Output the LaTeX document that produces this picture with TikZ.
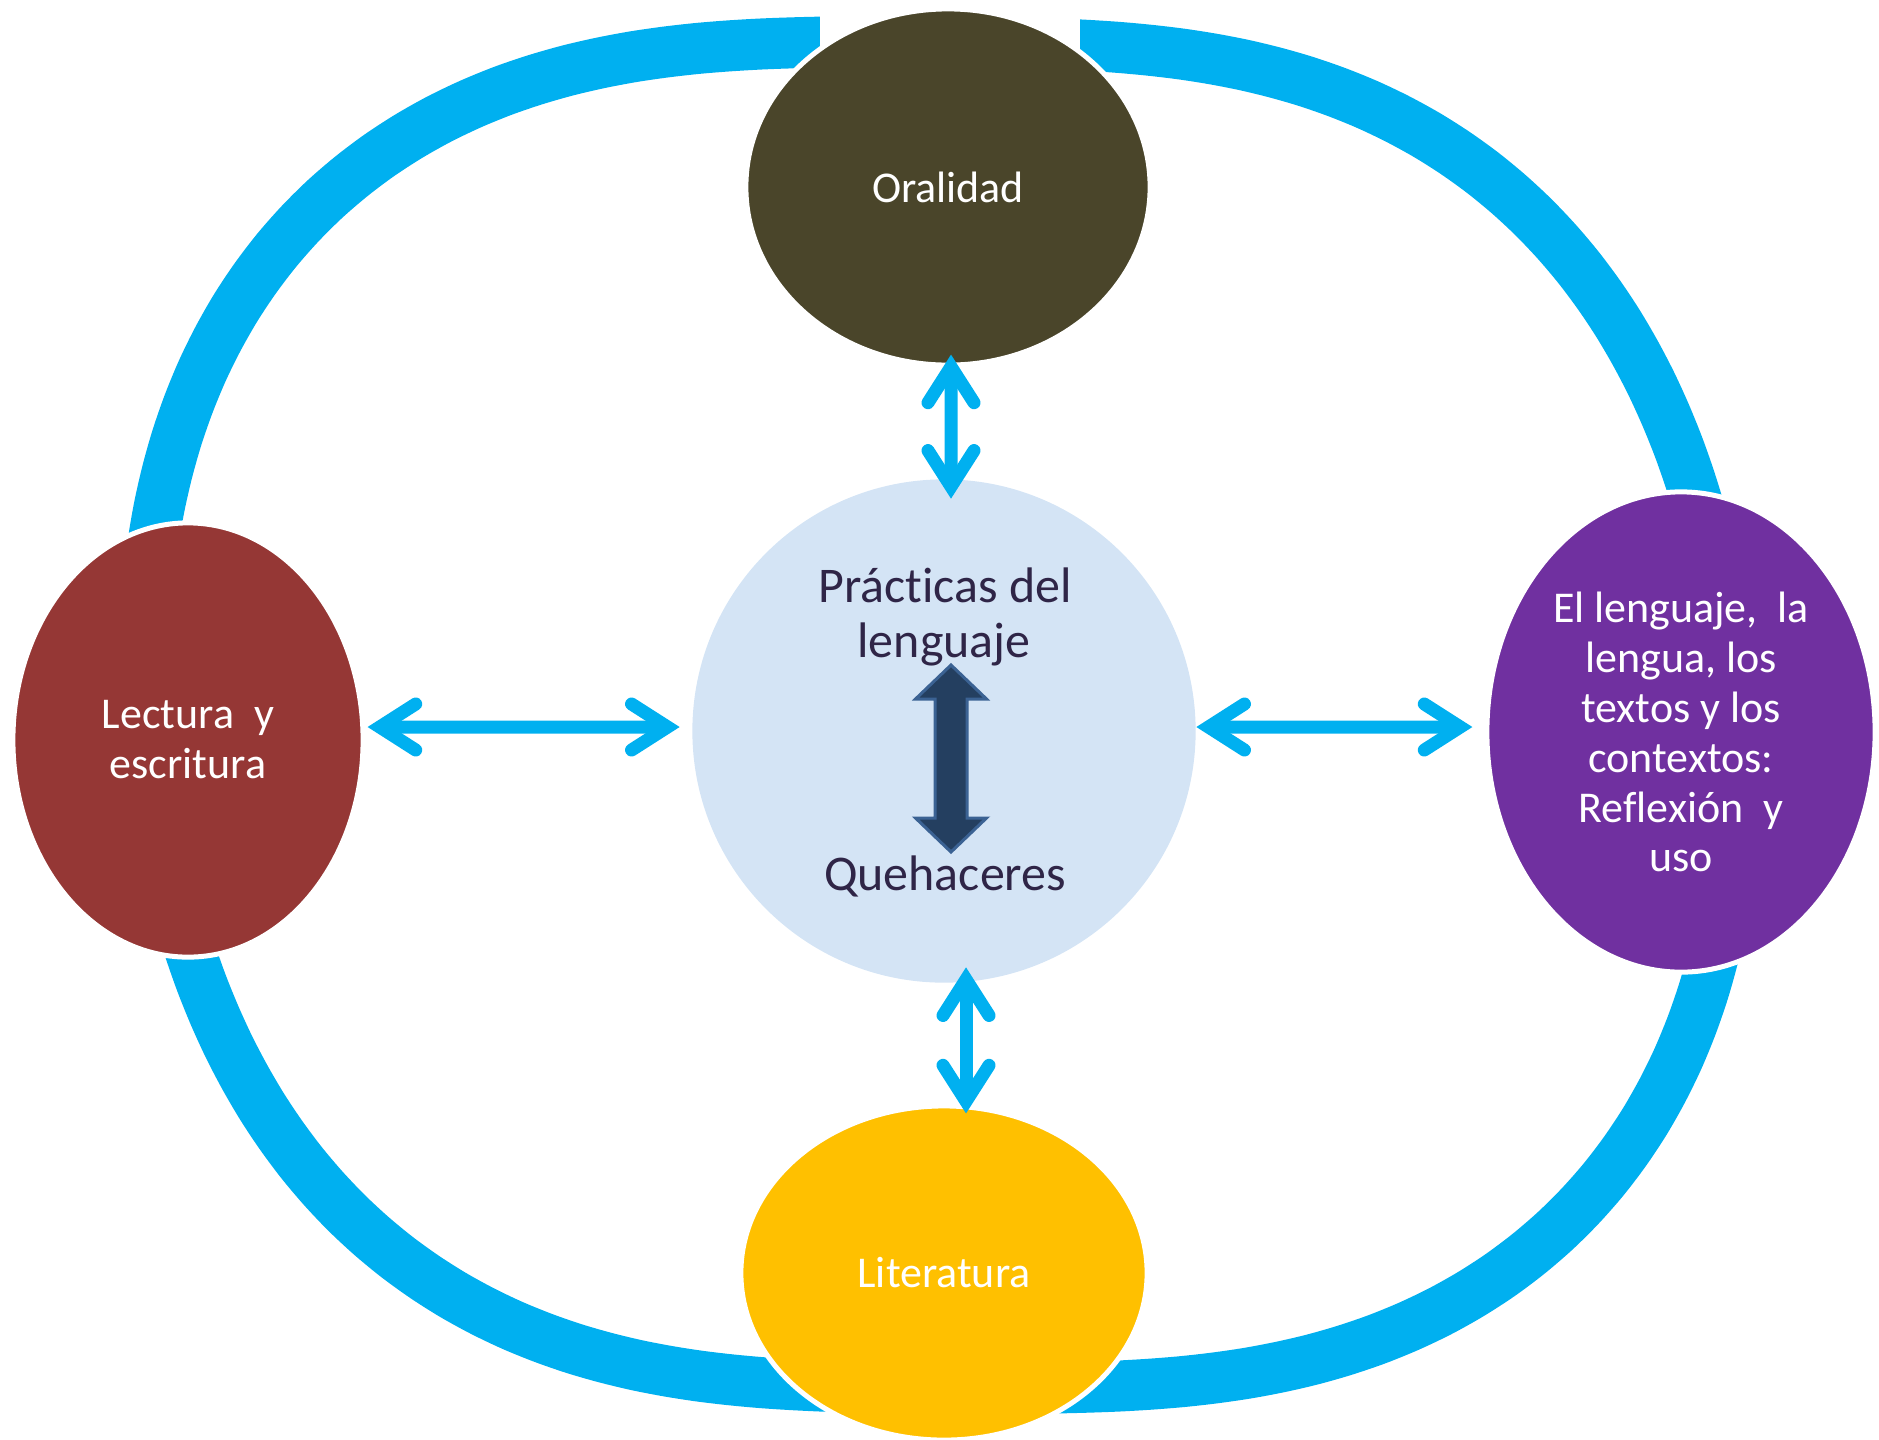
\documentclass[tikz,border=0pt]{standalone}
\usepackage{fontspec}
\setmainfont{Carlito}[Ligatures={NoCommon}]
\usetikzlibrary{arrows.meta,calc,shapes.geometric}
\definecolor{ringblue}{HTML}{00B0F0}
\definecolor{orlcol}{HTML}{4A452A}
\definecolor{leccol}{HTML}{953735}
\definecolor{purcol}{HTML}{7030A0}
\definecolor{litcol}{HTML}{FFC000}
\definecolor{ctrblue}{RGB}{212,228,245}
\definecolor{ctrtextcol}{HTML}{2F2547}
\definecolor{darkfill}{HTML}{243F60}
\definecolor{darkedge}{HTML}{3B6293}
\begin{document}
\begin{tikzpicture}[x=0.01cm,y=-0.01cm,
  declare function={ringr(\t)=756.6+60.3*cos(2*\t)+12.5*sin(2*\t)-23*cos(4*\t)+5.2*sin(4*\t);},
  ring/.style={draw=ringblue, line width=0.51cm},
  blob/.style={ellipse, draw=white, line width=0.05cm, inner sep=0pt, text=white, align=center,
    font=\fontsize{12.5pt}{14.2pt}\selectfont},
  ctrtext/.style={text=ctrtextcol, inner sep=0pt, font=\fontsize{14.2pt}{15.6pt}\selectfont},
  barb/.tip={Straight Barb[length=0.36cm, width=0.46cm, line cap=round, line join=miter]},
  biarrow/.style={draw=ringblue, line width=0.13cm, barb-barb},
  darkarrow/.style={fill=darkfill, draw=darkedge, line width=0.03cm, line join=miter}
]
\useasboundingbox (0,0) rectangle (1879,1439);

% big ring
\draw[ring] plot[domain=0:360, samples=145, smooth, variable=\t]
  ({940+ringr(\t)*cos(\t)}, {715+ringr(\t)*sin(\t)}) -- cycle;
% gap of the ring above Oralidad
\fill[white] (820,0) rectangle (1080,55);

% outer nodes
\node[blob, fill=orlcol, minimum width=4.04cm, minimum height=3.56cm] (orl) at (948,187) {Oralidad};
\node[blob, fill=leccol, minimum width=3.50cm, minimum height=4.34cm] (lect) at (188,740) {Lectura~ y\\escritura};
\node[blob, fill=purcol, minimum width=3.88cm, minimum height=4.80cm] (pur) at (1681,732)
  {El lenguaje,~ la\\lengua, los\\textos y los\\contextos:\\Reflexión~ y\\uso};
\node[blob, fill=litcol, minimum width=4.06cm, minimum height=3.34cm] (lit) at (944,1273) {Literatura};

% center circle
\node[circle, fill=ctrblue, minimum size=5.03cm, inner sep=0pt] (ctr) at (944,731) {};
\node[ctrtext, anchor=base] (t1) at (945,602) {Prácticas del};
\node[ctrtext, anchor=base] (t2) at (944,657) {lenguaje};
\node[ctrtext, anchor=base] (t3) at (945,890) {Quehaceres};

% dark double arrow inside the circle
\draw[darkarrow] (951,665) -- (986.5,699) -- (967,699) -- (967,818) -- (986.5,818)
  -- (951,852) -- (915.5,818) -- (935,818) -- (935,699) -- (915.5,699) -- cycle;

% connectors
\draw[biarrow, shorten <=0.02cm, shorten >=0.12cm] ([yshift=0.13cm]lect.east) -- ([yshift=0.04cm]ctr.west);
\draw[biarrow, shorten <=0cm, shorten >=0.12cm] ([yshift=0.04cm]ctr.east) -- ([yshift=0.05cm]pur.west);
\draw[biarrow, shorten <=-0.13cm, shorten >=-0.20cm] ([xshift=0.03cm]orl.south) -- ([xshift=0.07cm]ctr.north);
\draw[biarrow, shorten <=-0.16cm, shorten >=-0.10cm] ([xshift=0.22cm]ctr.south) -- ([xshift=0.22cm]lit.north);
\end{tikzpicture}
\end{document}
